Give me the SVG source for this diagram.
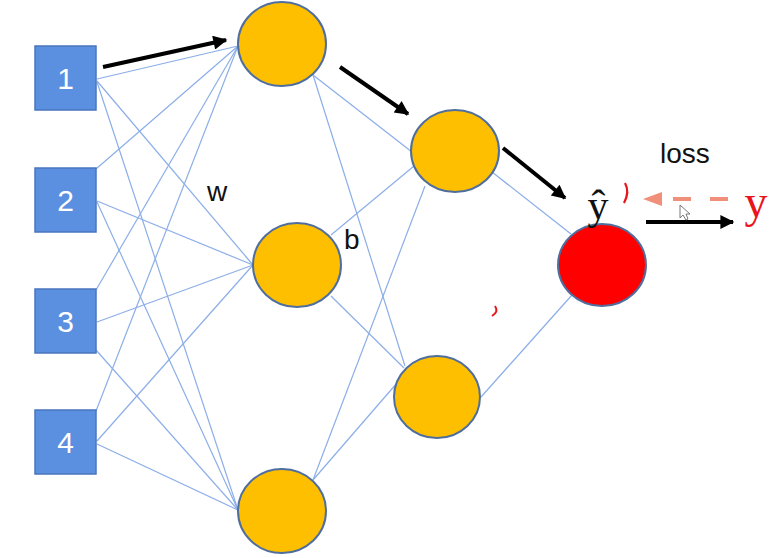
<svg xmlns="http://www.w3.org/2000/svg" width="780" height="558" viewBox="0 0 780 558">
<style>
.box{fill:#5b8fe0;stroke:#4a75bd;stroke-width:1.5}
.num{font-family:"Liberation Sans",Arial,sans-serif;font-size:30px;fill:#ffffff;text-anchor:middle}
.neu{fill:#fdbf00;stroke:#4f6e9e;stroke-width:2}
.out{fill:#ff0000;stroke:#4f6e9e;stroke-width:2}
.ln{stroke:#8caee8;stroke-width:1.2;fill:none}
.arr{stroke:#000;stroke-width:4;fill:none;marker-end:url(#ah)}
.lbl{font-family:"Liberation Sans",Arial,sans-serif;font-size:28px;fill:#111}
</style>
<defs>
<marker id="ah" viewBox="0 0 10 10" refX="9" refY="5" markerUnits="userSpaceOnUse" markerWidth="17" markerHeight="14" orient="auto">
<path d="M0,0 L10,5 L0,10 z" fill="#000"/>
</marker>
</defs>
<rect width="780" height="558" fill="#fff"/>
<g id="connectors">
<line class="ln" x1="97" y1="79" x2="238" y2="46"/>
<line class="ln" x1="97" y1="81" x2="253" y2="265"/>
<line class="ln" x1="97" y1="82" x2="238" y2="510"/>
<line class="ln" x1="96" y1="169" x2="238" y2="46"/>
<line class="ln" x1="97" y1="201" x2="253" y2="265"/>
<line class="ln" x1="97" y1="202" x2="238" y2="510"/>
<line class="ln" x1="96" y1="290" x2="238" y2="46"/>
<line class="ln" x1="97" y1="322" x2="253" y2="265"/>
<line class="ln" x1="96" y1="350" x2="238" y2="510"/>
<line class="ln" x1="96" y1="411" x2="238" y2="46"/>
<line class="ln" x1="97" y1="441" x2="253" y2="265"/>
<line class="ln" x1="97" y1="444" x2="238" y2="510"/>
<line class="ln" x1="313" y1="75" x2="412" y2="152"/>
<line class="ln" x1="313" y1="75" x2="405" y2="366"/>
<line class="ln" x1="331" y1="235" x2="414" y2="166"/>
<line class="ln" x1="331" y1="296" x2="404" y2="368"/>
<line class="ln" x1="313" y1="480" x2="425" y2="186"/>
<line class="ln" x1="313" y1="480" x2="397" y2="383"/>
<line class="ln" x1="492" y1="172" x2="571" y2="234"/>
<line class="ln" x1="481" y1="397" x2="572" y2="295"/>
</g>
<g id="in1"><rect class="box" x="35" y="46" width="61" height="64"/><text class="num" x="65.5" y="89">1</text></g>
<g id="in2"><rect class="box" x="35" y="168" width="61" height="64"/><text class="num" x="65.5" y="211">2</text></g>
<g id="in3"><rect class="box" x="35" y="289" width="61" height="64"/><text class="num" x="65.5" y="332">3</text></g>
<g id="in4"><rect class="box" x="35" y="410" width="61" height="64"/><text class="num" x="65.5" y="453">4</text></g>
<g id="h1"><ellipse class="neu" cx="282" cy="44" rx="44" ry="42"/></g>
<g id="h2"><ellipse class="neu" cx="297" cy="265" rx="44" ry="42"/></g>
<g id="h3"><ellipse class="neu" cx="282" cy="511" rx="44" ry="42"/></g>
<g id="h4"><ellipse class="neu" cx="455" cy="151" rx="44" ry="41"/></g>
<g id="h5"><ellipse class="neu" cx="437" cy="397" rx="43" ry="41"/></g>
<g id="out"><ellipse class="out" cx="602" cy="265" rx="44" ry="41"/></g>
<g id="arrows">
<line class="arr" x1="103" y1="67" x2="226" y2="40"/>
<line class="arr" x1="340" y1="67" x2="408" y2="114"/>
<line class="arr" x1="503" y1="148" x2="565" y2="198"/>
<line class="arr" x1="646" y1="222" x2="733" y2="222"/>
<line x1="728" y1="199" x2="662" y2="199" stroke="#f0907a" stroke-width="4" stroke-dasharray="18 19"/>
<path d="M643,199 L662,192 L662,206 z" fill="#f0907a"/>
</g>
<text class="lbl" x="207" y="201">w</text>
<text class="lbl" x="344" y="249">b</text>
<text class="lbl" x="660" y="163" font-size="24">loss</text>
<text x="598" y="219" font-family="Liberation Serif,Times New Roman,serif" font-size="42" fill="#111" text-anchor="middle">ŷ</text>
<text x="756" y="217" font-family="Liberation Serif,Times New Roman,serif" font-size="46" fill="#e8141a" text-anchor="middle">y</text>
<path d="M625,183 Q630,192 624,203" stroke="#e8141a" stroke-width="2.2" fill="none"/>
<path d="M495,306 Q499,312 492,316" stroke="#e8141a" stroke-width="2" fill="none"/>
<path d="M680,205 L680,218 L683,215 L686,220 L688,219 L686,214 L690,214 z" fill="#fff" stroke="#777" stroke-width="1"/>
</svg>
